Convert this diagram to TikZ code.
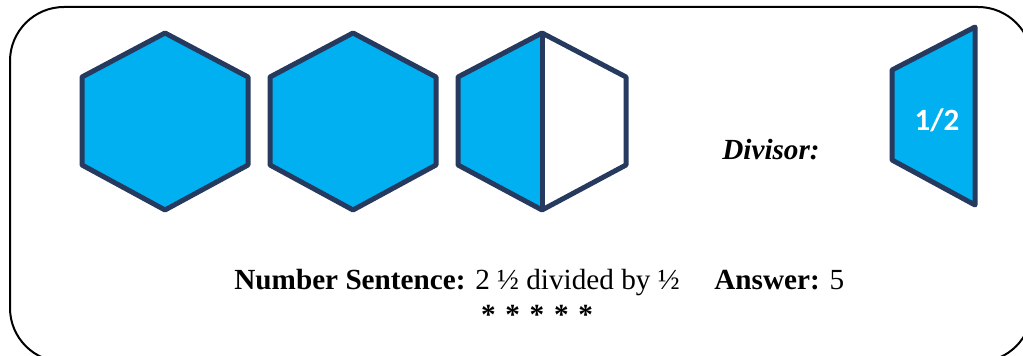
\documentclass[tikz,border=0pt]{standalone}
\usepackage{fontspec}
\setmainfont{Liberation Serif}
\newfontfamily\piecefont{Carlito}
\definecolor{piecefill}{RGB}{0,176,240}
\definecolor{pieceline}{RGB}{37,58,94}

\begin{document}
\begin{tikzpicture}[x=0.5pt,y=-0.5pt,font=\fontsize{14.6}{17}\selectfont,
  piece/.style={draw=pieceline,line width=2.5pt,line join=round}]
  \useasboundingbox (0,0) rectangle (1023,356);
  \draw[line width=1pt,rounded corners=27pt] (10,7) rectangle (1032,362);
  % two whole hexagons
  \foreach \cx in {165,353}{
    \draw[piece,fill=piecefill] (\cx,33) -- ++(83,44) -- ++(0,88) -- ++(-83,45) -- ++(-83,-45) -- ++(0,-88) -- cycle;}
  % half hexagon
  \fill[piecefill] (542,33) -- ++(-84,44) -- ++(0,88) -- ++(84,45) -- cycle;
  \draw[piece] (542,33) -- ++(84,44) -- ++(0,88) -- ++(-84,45) -- ++(-84,-45) -- ++(0,-88) -- cycle;
  \draw[piece] (542,33) -- (542,210);
  % divisor piece
  \draw[piece,fill=piecefill] (892,70) -- (975,27) -- (975,205) -- (892,160) -- cycle;
  \node[text=white,font=\piecefont\bfseries\fontsize{15.5}{17}\selectfont] (half) at (937,120) {1/2};
  \node[anchor=base,inner sep=0pt] (divisor) at (771,160) {\textbf{\textit{Divisor:}}};
  \node[anchor=base west,inner sep=0pt] (sentence) at (234,290) {\textbf{Number Sentence:} 2 ½ divided by ½};
  \node[anchor=base west,inner sep=0pt] (answer) at (714,290) {\textbf{Answer:} 5};
  \node[anchor=base,inner sep=0pt] (stars) at (537,325) {\textbf{*\,\,*\,\,*\,\,*\,\,*}};
\end{tikzpicture}
\end{document}
